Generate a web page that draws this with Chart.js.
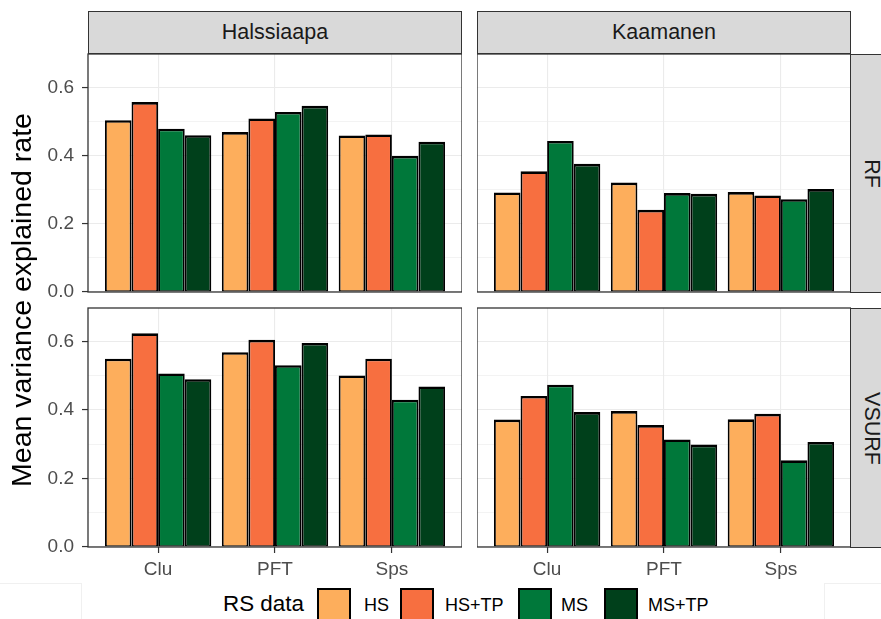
<!DOCTYPE html>
<html>
<head>
<meta charset="utf-8">
<script src="https://cdn.jsdelivr.net/npm/chart.js@4"></script>
<style>
  html, body { margin: 0; padding: 0; background: #fff; }
  #wrap { position: relative; width: 881px; height: 619px; overflow: hidden; background: #fff;
          font-family: "Liberation Sans", Arial, sans-serif; }
  canvas { position: absolute; }
  .strip { position: absolute; box-sizing: border-box; background: #D9D9D9; border: 1.3px solid #333;
           color: #1A1A1A; font-size: 21.5px; display: flex; align-items: center; justify-content: center; z-index: 2; }
  .strip span { display: inline-block; }
  .strip.side span { transform: rotate(90deg); white-space: nowrap; }
  #ytitle { position: absolute; left: -179px; top: 284px; width: 400px; text-align: center; font-size: 28.5px;
            color: #000; transform: rotate(-90deg); white-space: nowrap; line-height: 32px; }
  .key { position: absolute; top: 588px; width: 34px; height: 34px; box-sizing: border-box; border: 2px solid #000; }
  .keylab { position: absolute; top: 594px; font-size: 18px; color: #000; line-height: 22px; white-space: nowrap; }
  #legtitle { position: absolute; left: 223px; top: 591px; font-size: 22.4px; color: #000; line-height: 26px; white-space: nowrap; }
  .ghost { position: absolute; top: 583px; height: 60px; box-sizing: border-box; border: 1px solid #F0F0F0; }
</style>
</head>
<body>
<div id="wrap">
  <canvas id="cHalRF" width="462" height="278" style="left:0px;top:34px"></canvas>
  <canvas id="cKaaRF" width="374" height="278" style="left:477px;top:34px"></canvas>
  <canvas id="cHalVS" width="462" height="294" style="left:0px;top:288px"></canvas>
  <canvas id="cKaaVS" width="374" height="294" style="left:477px;top:288px"></canvas>

  <div class="strip" style="left:88px;top:11px;width:374px;height:43px"><span>Halssiaapa</span></div>
  <div class="strip" style="left:477px;top:11px;width:374px;height:43px"><span>Kaamanen</span></div>
  <div class="strip side" style="left:850px;top:54px;width:42px;height:239px"><span>RF</span></div>
  <div class="strip side" style="left:850px;top:308px;width:42px;height:240px"><span>VSURF</span></div>

  <div id="ytitle">Mean variance explained rate</div>

  <div class="ghost" style="left:-2px;width:84px"></div>
  <div class="ghost" style="left:824px;width:70px"></div>
  <div id="legend"></div>
</div>
<script>
// Categories, series and axis ticks
const categories = ['Clu', 'PFT', 'Sps'];
const seriesNames = ['HS', 'HS+TP', 'MS', 'MS+TP'];
const seriesColors = ['#FDAE5C', '#F76F40', '#00783A', '#00401B'];
const yMajorTicks = [0, 0.2, 0.4, 0.6];
const yMinorTicks = [0.1, 0.3, 0.5];
const yMax = 0.698;

// Halssiaapa, RF  (values for Clu, PFT, Sps)
const halRF_HS   = [0.504, 0.469, 0.459];
const halRF_HSTP = [0.557, 0.509, 0.462];
const halRF_MS   = [0.479, 0.528, 0.399];
const halRF_MSTP = [0.460, 0.546, 0.441];

// Kaamanen, RF
const kaaRF_HS   = [0.292, 0.321, 0.293];
const kaaRF_HSTP = [0.354, 0.241, 0.283];
const kaaRF_MS   = [0.443, 0.290, 0.272];
const kaaRF_MSTP = [0.376, 0.288, 0.302];

// Halssiaapa, VSURF
const halVS_HS   = [0.550, 0.569, 0.501];
const halVS_HSTP = [0.624, 0.605, 0.550];
const halVS_MS   = [0.507, 0.531, 0.430];
const halVS_MSTP = [0.490, 0.596, 0.469];

// Kaamanen, VSURF
const kaaVS_HS   = [0.372, 0.397, 0.373];
const kaaVS_HSTP = [0.441, 0.356, 0.389];
const kaaVS_MS   = [0.474, 0.314, 0.253];
const kaaVS_MSTP = [0.394, 0.299, 0.307];

const FONT = '"Liberation Sans", Arial, sans-serif';
const isMajor = v => yMajorTicks.some(t => Math.abs(t - v) < 1e-6);

// Outline around each panel, drawn over the bars
const panelBorder = {
  id: 'panelBorder',
  afterDraw(chart) {
    const { ctx, chartArea: a } = chart;
    ctx.save();
    ctx.strokeStyle = '#333';
    ctx.lineWidth = 1.3;
    ctx.strokeRect(a.left, a.top, a.right - a.left, a.bottom - a.top);
    ctx.restore();
  }
};

function makePanel(id, values, showY, showX) {
  const datasets = seriesNames.map((name, k) => ({
    label: name,
    data: values[k].map((v, i) => ({ x: i + 1, y: v })),
    backgroundColor: seriesColors[k],
    borderColor: '#000',
    borderWidth: { top: 2.6, left: 1.9, right: 1.9, bottom: 1.2 },
    borderSkipped: false,
    inflateAmount: 0,
    barPercentage: 1,
    categoryPercentage: 0.91
  }));
  return new Chart(document.getElementById(id), {
    type: 'bar',
    data: { datasets },
    options: {
      responsive: false,
      animation: false,
      devicePixelRatio: 1,
      layout: { padding: { top: 20, left: 0, right: 0, bottom: 0 } },
      plugins: { legend: { display: false }, tooltip: { enabled: false } },
      scales: {
        x: {
          type: 'linear',
          min: 0.4,
          max: 3.6,
          offset: false,
          afterBuildTicks: s => { s.ticks = categories.map((c, i) => ({ value: i + 1 })); },
          afterFit: s => { s.height = showX ? 35 : 20; },
          ticks: {
            display: showX,
            autoSkip: false,
            maxRotation: 0,
            padding: 5,
            color: '#4D4D4D',
            font: { family: FONT, size: 19 },
            callback: v => categories[Math.round(v) - 1] || ''
          },
          grid: { offset: false, color: '#EBEBEB', lineWidth: 1.1, drawTicks: showX, tickLength: 6, tickColor: '#333', tickWidth: 1.2 },
          border: { display: false }
        },
        y: {
          min: 0,
          max: yMax,
          afterBuildTicks: s => {
            s.ticks = [...yMajorTicks, ...yMinorTicks].sort((a, b) => a - b).map(v => ({ value: v }));
          },
          afterFit: s => { s.width = showY ? 88 : 0; },
          ticks: {
            display: showY,
            padding: 8,
            color: '#4D4D4D',
            font: { family: FONT, size: 19 },
            callback: v => isMajor(v) ? v.toFixed(1) : ''
          },
          grid: {
            color: '#EBEBEB',
            lineWidth: c => isMajor(c.tick.value) ? 1.1 : 0.6,
            drawTicks: showY,
            tickLength: 6,
            tickColor: c => isMajor(c.tick.value) ? '#333' : 'rgba(0,0,0,0)',
            tickWidth: 1.2
          },
          border: { display: false }
        }
      }
    },
    plugins: [panelBorder]
  });
}

makePanel('cHalRF', [halRF_HS, halRF_HSTP, halRF_MS, halRF_MSTP], true, false);
makePanel('cKaaRF', [kaaRF_HS, kaaRF_HSTP, kaaRF_MS, kaaRF_MSTP], false, false);
makePanel('cHalVS', [halVS_HS, halVS_HSTP, halVS_MS, halVS_MSTP], true, true);
makePanel('cKaaVS', [kaaVS_HS, kaaVS_HSTP, kaaVS_MS, kaaVS_MSTP], false, true);

// Legend: title, colour keys and labels
const legend = document.getElementById('legend');
const title = document.createElement('div');
title.id = 'legtitle';
title.textContent = 'RS data';
legend.appendChild(title);
const keyLeft = [317, 400, 518, 604];
const labLeft = [364, 445, 561, 648];
seriesNames.forEach((name, k) => {
  const key = document.createElement('div');
  key.className = 'key';
  key.style.left = keyLeft[k] + 'px';
  key.style.background = seriesColors[k];
  legend.appendChild(key);
  const lab = document.createElement('div');
  lab.className = 'keylab';
  lab.style.left = labLeft[k] + 'px';
  lab.textContent = name;
  legend.appendChild(lab);
});
</script>
</body>
</html>
